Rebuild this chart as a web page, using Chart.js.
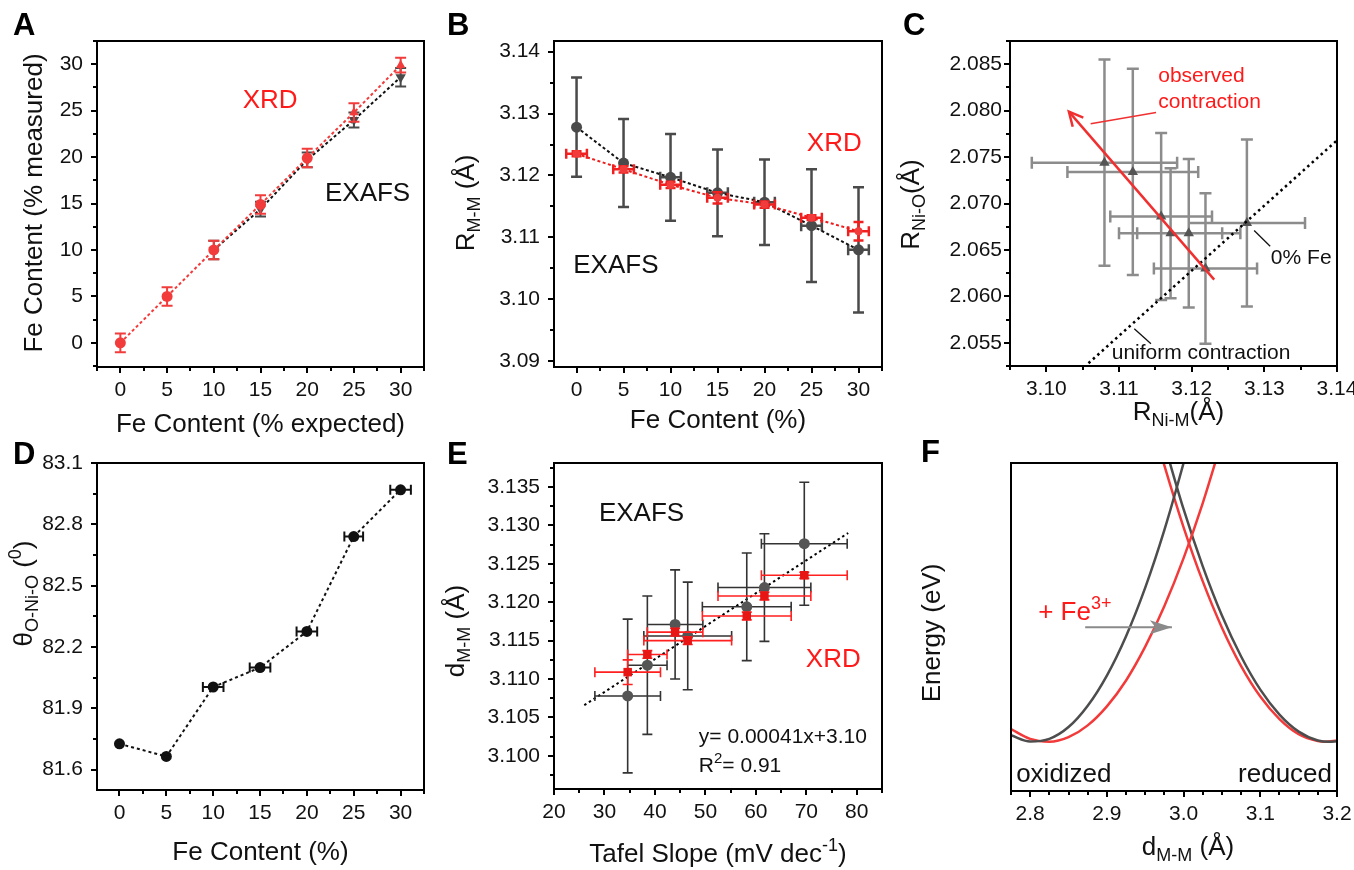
<!DOCTYPE html>
<html><head><meta charset="utf-8">
<script src="https://cdn.jsdelivr.net/npm/chart.js@4.4.1/dist/chart.umd.min.js"></script>
<style>
html,body{margin:0;padding:0;background:#fff;}
body{width:1354px;height:870px;position:relative;overflow:hidden;}
canvas{position:absolute;left:0;top:0;}
</style></head><body>
<canvas id="cA" width="1354" height="870"></canvas>
<canvas id="cB" width="1354" height="870"></canvas>
<canvas id="cC" width="1354" height="870"></canvas>
<canvas id="cD" width="1354" height="870"></canvas>
<canvas id="cE" width="1354" height="870"></canvas>
<canvas id="cF" width="1354" height="870"></canvas>
<script>
const FONT='"Liberation Sans", Arial, Helvetica, sans-serif';
const W=1354,H=870;
const RED='#f23c3c', TEXT_RED='#ff1a1a', DARK='#4a4a4a', BLACK='#111111', BAR_GRAY='#8c8c8c';

// ---------- Panel A ----------
const aExpected=[0,5,10,15,20,25,30];
const aXrd=[0,5,10,14.9,19.9,24.8,29.9];
const aXrdErr=[1,1,1,1,1,1,0.8];
const aExafsX=[10,15,20,25,30];
const aExafs=[10,14.4,19.7,24.0,28.6];
const aExafsErr=[1,0.8,0.8,0.8,1.0];
const aTicks=[0,5,10,15,20,25,30];
const aTickLabels=['0','5','10','15','20','25','30'];

// ---------- Panel B ----------
const bFe=[0,5,10,15,20,25,30];
const bExafs=[3.1278,3.1220,3.1197,3.1172,3.1157,3.1119,3.1080];
const bExafsYErr=[0.0080,0.0071,0.0070,0.0070,0.0069,0.0091,0.0101];
const bExafsXErr=[0,0,1.1,1.1,1.1,1.1,1.1];
const bXrd=[3.1235,3.1210,3.1185,3.1164,3.1153,3.1132,3.1110];
const bXrdYErr=[0.0004,0.0005,0.0005,0.0009,0.0005,0.0004,0.0015];
const bXrdXErr=[1.1,1.1,1.1,1.1,1.1,1.1,1.1];
const bYTicks=[3.09,3.10,3.11,3.12,3.13,3.14];
const bYLabels=['3.09','3.10','3.11','3.12','3.13','3.14'];

// ---------- Panel C ----------
const cRNiM=[3.1080,3.1119,3.1158,3.1171,3.1196,3.1219,3.1276];
const cRNiO=[2.0744,2.0734,2.0686,2.0668,2.0668,2.0630,2.0679];
const cXErr=[0.0100,0.0090,0.0070,0.0071,0.0071,0.0071,0.0080];
const cYErr=[0.0111,0.0111,0.0090,0.0070,0.0080,0.0081,0.0090];
const cUniformX=[3.1058,3.1400];
const cUniformY=[2.0528,2.0768];
const cArrowX=[3.1231,3.1031];
const cArrowY=[2.0618,2.0799];
const cXTicks=[3.10,3.11,3.12,3.13,3.14];
const cXLabels=['3.10','3.11','3.12','3.13','3.14'];
const cYTicks=[2.055,2.060,2.065,2.070,2.075,2.080,2.085];
const cYLabels=['2.055','2.060','2.065','2.070','2.075','2.080','2.085'];

// ---------- Panel D ----------
const dFe=[0,5,10,15,20,25,30];
const dTheta=[81.726,81.664,82.004,82.099,82.276,82.740,82.969];
const dXErr=[0,0,1.1,1.1,1.1,1.0,1.1];
const dYTicks=[81.6,81.9,82.2,82.5,82.8,83.1];
const dYLabels=['81.6','81.9','82.2','82.5','82.8','83.1'];

// ---------- Panel E ----------
const eTafel=[69.6,61.7,58.2,46.5,44.0,38.5,34.6];
const eTafelErr=[8.5,9.2,8.8,8.7,5.5,3.9,6.5];
const eExafs=[3.1276,3.1219,3.1194,3.1156,3.1171,3.1118,3.1078];
const eExafsYErr=[0.0080,0.0070,0.0070,0.0070,0.0071,0.0090,0.0100];
const eXrd=[3.1235,3.1208,3.1182,3.1150,3.1161,3.1132,3.1109];
const eXrdYErr=[0.0004,0.0005,0.0005,0.0005,0.0005,0.0005,0.0016];
const eFitX=[26.0,78.3];
const eFitY=[3.1066,3.1290];
const eXTicks=[20,30,40,50,60,70,80];
const eXLabels=['20','30','40','50','60','70','80'];
const eYTicks=[3.100,3.105,3.110,3.115,3.120,3.125,3.130,3.135];
const eYLabels=['3.100','3.105','3.110','3.115','3.120','3.125','3.130','3.135'];

// ---------- Panel F ----------
const fGrayOxX=[2.775,2.80,2.825,2.85,2.875,2.90,2.925,2.95,2.975,3.00,3.01];
const fGrayOxE=[1.70,1.51,1.59,1.95,2.60,3.52,4.72,6.20,7.96,10.0,10.89];
const fRedOxX=[2.775,2.80,2.825,2.85,2.875,2.90,2.925,2.95,2.975,3.00,3.025,3.05];
const fRedOxE=[1.89,1.59,1.50,1.64,2.00,2.58,3.37,4.40,5.64,7.10,8.78,10.69];
const fGrayRedX=[2.975,3.00,3.025,3.05,3.075,3.10,3.125,3.15,3.175,3.19,3.20];
const fGrayRedE=[10.58,8.59,6.85,5.35,4.10,3.09,2.33,1.81,1.54,1.50,1.52];
const fRedRedX=[2.965,2.975,3.00,3.025,3.05,3.075,3.10,3.125,3.15,3.175,3.185,3.20];
const fRedRedE=[10.74,9.92,8.04,6.39,4.98,3.81,2.88,2.19,1.73,1.52,1.50,1.54];
const fArrowX=[2.8717,2.9848];
const fArrowE=[4.99,4.99];
const fXTicks=[2.8,2.9,3.0,3.1,3.2];
const fXLabels=['2.8','2.9','3.0','3.1','3.2'];

function pts(xs,ys){return xs.map((x,i)=>({x:x,y:ys[i]}));}

function drawRich(ctx,parts,x,y,size,color,align,rotate){
  ctx.save(); ctx.translate(x,y); if(rotate) ctx.rotate(-Math.PI/2);
  const segs=parts.map(p=>{const s=(p.sub||p.sup)?Math.round(size*0.7):size; ctx.font=s+'px '+FONT; return {p:p,s:s,w:ctx.measureText(p.t).width};});
  const total=segs.reduce((a,g)=>a+g.w,0);
  let cx=align==='center'?-total/2:(align==='right'?-total:0);
  ctx.fillStyle=color; ctx.textBaseline='middle'; ctx.textAlign='left';
  segs.forEach(g=>{ctx.font=g.s+'px '+FONT; const dy=g.p.sub?size*0.3:(g.p.sup?-size*0.33:0); ctx.fillText(g.p.t,cx,dy); cx+=g.w;});
  ctx.restore();
}

function deco(cfg){
  return {
    id:'deco'+cfg.letter.t,
    beforeDatasetDraw(chart,args){
      const ds=chart.data.datasets[args.index]; if(!ds.xErr&&!ds.yErr) return;
      const ctx=chart.ctx,xs=chart.scales.x,ys=chart.scales.y,a=chart.chartArea;
      ctx.save(); ctx.beginPath(); ctx.rect(a.left,a.top,a.right-a.left,a.bottom-a.top); ctx.clip();
      ctx.strokeStyle=ds.errColor; ctx.lineWidth=ds.errWidth; const c=ds.cap;
      ctx.beginPath();
      ds.data.forEach((p,j)=>{
        const px=xs.getPixelForValue(p.x),py=ys.getPixelForValue(p.y);
        const ye=ds.yErr?ds.yErr[j]:0, xe=ds.xErr?ds.xErr[j]:0;
        if(ye>0){const y1=ys.getPixelForValue(p.y+ye),y2=ys.getPixelForValue(p.y-ye);
          ctx.moveTo(px,y1);ctx.lineTo(px,y2);ctx.moveTo(px-c,y1);ctx.lineTo(px+c,y1);ctx.moveTo(px-c,y2);ctx.lineTo(px+c,y2);}
        if(xe>0){const x1=xs.getPixelForValue(p.x-xe),x2=xs.getPixelForValue(p.x+xe);
          ctx.moveTo(x1,py);ctx.lineTo(x2,py);ctx.moveTo(x1,py-c);ctx.lineTo(x1,py+c);ctx.moveTo(x2,py-c);ctx.lineTo(x2,py+c);}
      });
      ctx.stroke(); ctx.restore();
    },
    afterDatasetDraw(chart,args){
      const ds=chart.data.datasets[args.index]; if(!ds.arrow) return;
      const n=ds.data.length,xs=chart.scales.x,ys=chart.scales.y;
      const x1=xs.getPixelForValue(ds.data[n-2].x),y1=ys.getPixelForValue(ds.data[n-2].y);
      const x2=xs.getPixelForValue(ds.data[n-1].x),y2=ys.getPixelForValue(ds.data[n-1].y);
      const ang=Math.atan2(y2-y1,x2-x1),L=ds.arrow.len,hw=ds.arrow.half;
      const ctx=chart.ctx; ctx.save();
      ctx.fillStyle=ds.borderColor; ctx.strokeStyle=ds.borderColor; ctx.lineWidth=ds.borderWidth;
      const cs=Math.cos(ang),sn=Math.sin(ang);
      const bx=x2-L*cs,by=y2-L*sn;
      const lx=bx+hw*sn,ly=by-hw*cs,rx=bx-hw*sn,ry=by+hw*cs;
      ctx.beginPath();
      if(ds.arrow.open){ctx.moveTo(lx,ly);ctx.lineTo(x2,y2);ctx.lineTo(rx,ry);ctx.stroke();}
      else{const nx=x2-0.75*L*cs,ny=y2-0.75*L*sn;ctx.moveTo(x2,y2);ctx.lineTo(lx,ly);ctx.lineTo(nx,ny);ctx.lineTo(rx,ry);ctx.closePath();ctx.fill();}
      ctx.restore();
    },
    afterDraw(chart){
      const ctx=chart.ctx,a=chart.chartArea,xs=chart.scales.x,ys=chart.scales.y;
      ctx.save();
      ctx.strokeStyle='#000'; ctx.lineWidth=2;
      ctx.strokeRect(a.left,a.top,a.right-a.left,a.bottom-a.top);
      ctx.beginPath();
      if(cfg.minorX){const st=cfg.minorX;
        for(let k=Math.ceil(xs.min/st-1e-6);k*st<=xs.max+1e-9;k++){const v=k*st;
          if(cfg.x.ticks.some(t=>Math.abs(t-v)<st*1e-3)) continue;
          const px=Math.round(xs.getPixelForValue(v)); ctx.moveTo(px,a.bottom); ctx.lineTo(px,a.bottom+4);} }
      if(cfg.minorY){const st=cfg.minorY;
        for(let k=Math.ceil(ys.min/st-1e-6);k*st<=ys.max+1e-9;k++){const v=k*st;
          if(cfg.y.ticks.some(t=>Math.abs(t-v)<st*1e-3)) continue;
          const py=Math.round(ys.getPixelForValue(v)); ctx.moveTo(a.left,py); ctx.lineTo(a.left-4,py);} }
      ctx.stroke();
      if(cfg.xTitle) drawRich(ctx,cfg.xTitle.parts,(a.left+a.right)/2+cfg.xTitle.dx,a.bottom+cfg.xTitle.dy,26,'#111','center',false);
      if(cfg.yTitle) drawRich(ctx,cfg.yTitle.parts,a.left+cfg.yTitle.dx,(a.top+a.bottom)/2+cfg.yTitle.dy,26,'#111','center',true);
      (cfg.texts||[]).forEach(t=>{
        drawRich(ctx,t.parts,xs.getPixelForValue(t.x),ys.getPixelForValue(t.y),t.size,t.color,t.align||'left',false);
      });
      ctx.fillStyle='#000'; ctx.font='bold 31px '+FONT; ctx.textBaseline='middle'; ctx.textAlign='left';
      ctx.fillText(cfg.letter.t,cfg.letter.x,cfg.letter.y);
      ctx.restore();
    }
  };
}

function axisCfg(ax,isX,size){
  return {type:'linear',min:ax.min,max:ax.max,bounds:'data',display:true,
    afterBuildTicks:s=>{s.ticks=ax.ticks.map(v=>({value:v}));},
    afterFit:s=>{if(isX)s.height=size;else s.width=size;s.paddingLeft=0;s.paddingRight=0;s.paddingTop=0;s.paddingBottom=0;},
    border:{display:false},
    grid:{display:true,drawOnChartArea:false,drawTicks:true,tickLength:6,tickWidth:2,lineWidth:2,color:'#000'},
    ticks:{display:ax.ticks.length>0,autoSkip:false,maxRotation:0,minRotation:0,
      padding:(ax.pad!=null)?ax.pad:(isX?5:8),color:'#111',
      font:{family:FONT,size:21},callback:(v,i)=>ax.labels[i]}};
}

function makeChart(id,box,cfg){
  const yW=88,xH=40;
  return new Chart(document.getElementById(id),{
    type:'scatter',
    data:{datasets:cfg.datasets},
    options:{responsive:false,animation:false,devicePixelRatio:1,
      layout:{padding:{left:box[0]-yW,top:box[1],right:W-box[2],bottom:H-box[3]-xH}},
      plugins:{legend:{display:false},tooltip:{enabled:false}},
      events:[],
      scales:{x:axisCfg(cfg.x,true,xH),y:axisCfg(cfg.y,false,yW)}},
    plugins:[deco(cfg)]
  });
}

const lineOnly={showLine:true,pointRadius:0,pointHoverRadius:0};

// ---- A ----
makeChart('cA',[97,41,424,367],{
  letter:{t:'A',x:13,y:26},
  x:{min:-2.5,max:32.5,ticks:aTicks,labels:aTickLabels},
  y:{min:-2.6,max:32.5,ticks:aTicks,labels:aTickLabels},
  minorX:2.5,minorY:2.5,
  xTitle:{parts:[{t:'Fe Content (% expected)'}],dx:0,dy:58},
  yTitle:{parts:[{t:'Fe Content (% measured)'}],dx:-62,dy:-1},
  texts:[{x:13.1,y:26.1,parts:[{t:'XRD'}],size:26,color:TEXT_RED},
         {x:21.9,y:16.0,parts:[{t:'EXAFS'}],size:26,color:'#111'}],
  datasets:[
    {label:'XRD',data:pts(aExpected,aXrd),showLine:true,borderColor:RED,borderWidth:2,borderDash:[3,2.5],
     pointStyle:['circle','circle','circle','circle','circle','triangle','triangle'],pointRadius:5.5,
     pointBackgroundColor:RED,pointBorderColor:RED,pointBorderWidth:0,
     yErr:aXrdErr,errColor:RED,errWidth:2,cap:5.5},
    {label:'EXAFS',data:pts(aExafsX,aExafs),showLine:true,borderColor:BLACK,borderWidth:2,borderDash:[3,2.5],
     pointStyle:'triangle',rotation:180,pointRadius:6,pointBackgroundColor:DARK,pointBorderColor:DARK,pointBorderWidth:0,
     yErr:aExafsErr,errColor:DARK,errWidth:2,cap:5.5}
  ]
});

// ---- B ----
makeChart('cB',[554,41,882,367],{
  letter:{t:'B',x:447,y:26},
  x:{min:-2.4,max:32.5,ticks:aTicks,labels:aTickLabels},
  y:{min:3.0891,max:3.1417,ticks:bYTicks,labels:bYLabels},
  minorX:2.5,minorY:0.005,
  xTitle:{parts:[{t:'Fe Content (%)'}],dx:0,dy:54},
  yTitle:{parts:[{t:'R'},{t:'M-M',sub:true},{t:' (Å)'}],dx:-87,dy:-1},
  texts:[{x:24.5,y:3.1251,parts:[{t:'XRD'}],size:26,color:TEXT_RED},
         {x:-0.35,y:3.1054,parts:[{t:'EXAFS'}],size:26,color:'#111'}],
  datasets:[
    {label:'XRD',data:pts(bFe,bXrd),showLine:true,borderColor:'#ee1c1c',borderWidth:2,borderDash:[3,2.5],
     pointRadius:4,pointBackgroundColor:RED,pointBorderColor:RED,pointBorderWidth:0,
     xErr:bXrdXErr,yErr:bXrdYErr,errColor:'#f02020',errWidth:2.5,cap:5},
    {label:'EXAFS',data:pts(bFe,bExafs),showLine:true,borderColor:BLACK,borderWidth:2,borderDash:[3,2.5],
     pointRadius:5.5,pointBackgroundColor:DARK,pointBorderColor:DARK,pointBorderWidth:0,
     xErr:bExafsXErr,yErr:bExafsYErr,errColor:DARK,errWidth:2.5,cap:5.5}
  ]
});

// ---- C ----
makeChart('cC',[1010,41,1337,366],{
  letter:{t:'C',x:903,y:26},
  x:{min:3.095,max:3.14,ticks:cXTicks,labels:cXLabels},
  y:{min:2.0525,max:2.0875,ticks:cYTicks,labels:cYLabels,pad:2},
  minorX:0.005,minorY:0.0025,
  xTitle:{parts:[{t:'R'},{t:'Ni-M',sub:true},{t:'(Å)'}],dx:5,dy:47},
  yTitle:{parts:[{t:'R'},{t:'Ni-O',sub:true},{t:'(Å)'}],dx:-98,dy:1},
  texts:[{x:3.1154,y:2.0837,parts:[{t:'observed'}],size:21,color:TEXT_RED},
         {x:3.1154,y:2.0809,parts:[{t:'contraction'}],size:21,color:TEXT_RED},
         {x:3.1309,y:2.0641,parts:[{t:'0% Fe'}],size:21,color:'#111'},
         {x:3.1090,y:2.0539,parts:[{t:'uniform contraction'}],size:21,color:'#111'}],
  datasets:[
    Object.assign({label:'observed contraction',data:pts(cArrowX,cArrowY),borderColor:'#f03030',borderWidth:2.5,
      arrow:{len:14,half:7,open:true}},lineOnly),
    Object.assign({label:'lead1',data:[{x:3.1061,y:2.0786},{x:3.1151,y:2.0798}],borderColor:'#f03030',borderWidth:1.5},lineOnly),
    Object.assign({label:'lead2',data:[{x:3.1286,y:2.0671},{x:3.1308,y:2.0654}],borderColor:'#111',borderWidth:1.3},lineOnly),
    Object.assign({label:'lead3',data:[{x:3.1121,y:2.0565},{x:3.1144,y:2.0549}],borderColor:'#111',borderWidth:1.3},lineOnly),
    Object.assign({label:'uniform contraction',data:pts(cUniformX,cUniformY),borderColor:'#000',borderWidth:2.5,borderDash:[2.5,3.5]},lineOnly),
    {label:'EXAFS',data:pts(cRNiM,cRNiO),showLine:false,pointStyle:'triangle',pointRadius:6,
     pointBackgroundColor:'#555',pointBorderColor:'#555',pointBorderWidth:0,
     xErr:cXErr,yErr:cYErr,errColor:BAR_GRAY,errWidth:2.5,cap:6}
  ]
});

// ---- D ----
makeChart('cD',[97,463,424,790],{
  letter:{t:'D',x:13,y:455},
  x:{min:-2.4,max:32.5,ticks:aTicks,labels:aTickLabels},
  y:{min:81.5,max:83.1,ticks:dYTicks,labels:dYLabels},
  minorX:2.5,minorY:0.15,
  xTitle:{parts:[{t:'Fe Content (%)'}],dx:0,dy:63},
  yTitle:{parts:[{t:'θ'},{t:'O-Ni-O',sub:true},{t:' ('},{t:'0',sup:true},{t:')'}],dx:-72,dy:-33},
  texts:[],
  datasets:[
    {label:'theta',data:pts(dFe,dTheta),showLine:true,borderColor:BLACK,borderWidth:2,borderDash:[3,3],
     pointRadius:5.5,pointBackgroundColor:BLACK,pointBorderColor:BLACK,pointBorderWidth:0,
     xErr:dXErr,errColor:BLACK,errWidth:2,cap:5}
  ]
});

// ---- E ----
makeChart('cE',[554,463,882,789],{
  letter:{t:'E',x:447,y:455},
  x:{min:20,max:85,ticks:eXTicks,labels:eXLabels},
  y:{min:3.0957,max:3.1381,ticks:eYTicks,labels:eYLabels},
  minorX:5,minorY:0.0025,
  xTitle:{parts:[{t:'Tafel Slope (mV dec'},{t:'-1',sup:true},{t:')'}],dx:0,dy:66},
  yTitle:{parts:[{t:'d'},{t:'M-M',sub:true},{t:' (Å)'}],dx:-97,dy:5},
  texts:[{x:28.9,y:3.1315,parts:[{t:'EXAFS'}],size:26,color:'#111'},
         {x:69.9,y:3.1125,parts:[{t:'XRD'}],size:26,color:TEXT_RED},
         {x:48.7,y:3.1025,parts:[{t:'y= 0.00041x+3.10'}],size:21,color:'#111'},
         {x:48.7,y:3.0987,parts:[{t:'R'},{t:'2',sup:true},{t:'= 0.91'}],size:21,color:'#111'}],
  datasets:[
    {label:'XRD',data:pts(eTafel,eXrd),showLine:false,pointStyle:'rect',pointRadius:6,
     pointBackgroundColor:'#e81515',pointBorderColor:'#e81515',pointBorderWidth:0,
     xErr:eTafelErr,yErr:eXrdYErr,errColor:'#ff2020',errWidth:1.6,cap:5},
    {label:'EXAFS',data:pts(eTafel,eExafs),showLine:false,pointRadius:5.5,
     pointBackgroundColor:'#555',pointBorderColor:'#555',pointBorderWidth:0,
     xErr:eTafelErr,yErr:eExafsYErr,errColor:'#333',errWidth:1.6,cap:5},
    Object.assign({label:'fit',data:pts(eFitX,eFitY),borderColor:'#000',borderWidth:2,borderDash:[2.5,3]},lineOnly)
  ]
});

// ---- F ----
makeChart('cF',[1011,463,1337,791],{
  letter:{t:'F',x:921,y:453},
  x:{min:2.775,max:3.2,ticks:fXTicks,labels:fXLabels},
  y:{min:0,max:10,ticks:[],labels:[]},
  minorX:0.025,minorY:null,
  xTitle:{parts:[{t:'d'},{t:'M-M',sub:true},{t:' (Å)'}],dx:14,dy:57},
  yTitle:{parts:[{t:'Energy (eV)'}],dx:-78,dy:6},
  texts:[{x:2.8104,y:5.44,parts:[{t:'+ Fe'},{t:'3+',sup:true}],size:26,color:TEXT_RED},
         {x:2.7817,y:0.48,parts:[{t:'oxidized'}],size:26,color:'#111'},
         {x:3.1935,y:0.48,parts:[{t:'reduced'}],size:26,color:'#111',align:'right'}],
  datasets:[
    Object.assign({label:'arrow',data:pts(fArrowX,fArrowE),borderColor:'#8a8a8a',borderWidth:2,arrow:{len:22,half:7,open:false}},lineOnly),
    Object.assign({label:'ox gray',data:pts(fGrayOxX,fGrayOxE),borderColor:'#4d4d4d',borderWidth:2.5,cubicInterpolationMode:'monotone'},lineOnly),
    Object.assign({label:'ox red',data:pts(fRedOxX,fRedOxE),borderColor:'#f23a3a',borderWidth:2.5,cubicInterpolationMode:'monotone'},lineOnly),
    Object.assign({label:'red gray',data:pts(fGrayRedX,fGrayRedE),borderColor:'#4d4d4d',borderWidth:2.5,cubicInterpolationMode:'monotone'},lineOnly),
    Object.assign({label:'red red',data:pts(fRedRedX,fRedRedE),borderColor:'#f23a3a',borderWidth:2.5,cubicInterpolationMode:'monotone'},lineOnly)
  ]
});
</script>
</body></html>
